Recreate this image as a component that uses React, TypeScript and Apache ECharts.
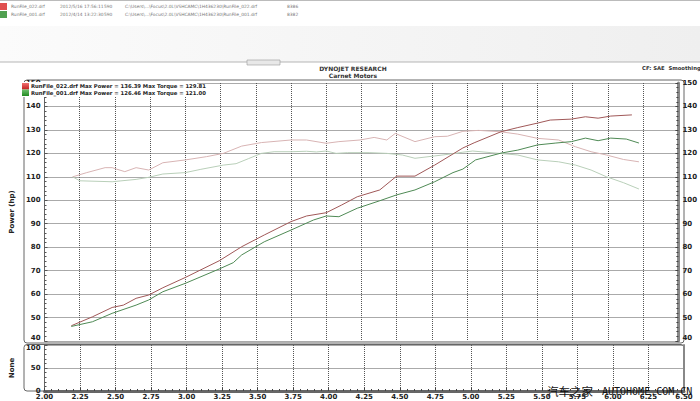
import React, { useEffect, useRef } from "react";
import * as echarts from "echarts";

// ---- data (RPM x1000, hp / lb-ft) ----
const redPowerRpm = [2.19, 2.34, 2.48, 2.56, 2.65, 2.74, 2.84, 3.0, 3.24, 3.4, 3.56, 3.75, 3.86, 4.0, 4.11, 4.22, 4.38, 4.5, 4.63, 4.77, 4.97, 5.05, 5.24, 5.36, 5.5, 5.59, 5.74, 5.84, 5.93, 6.02, 6.17];
const redPower = [46.5, 50.3, 54.3, 55.3, 58.2, 59.6, 62.7, 67.1, 74.2, 80.2, 85.2, 90.9, 93.3, 94.7, 98.0, 101.5, 104.4, 110.3, 110.3, 115.0, 122.3, 124.5, 129.2, 131.0, 132.9, 134.2, 134.6, 135.6, 135.0, 135.9, 136.4];

const greenPowerRpm = [2.19, 2.34, 2.48, 2.65, 2.74, 2.84, 3.0, 3.24, 3.34, 3.4, 3.56, 3.75, 3.91, 4.0, 4.09, 4.22, 4.38, 4.5, 4.63, 4.77, 4.9, 4.97, 5.06, 5.24, 5.36, 5.5, 5.63, 5.74, 5.84, 5.93, 6.02, 6.13, 6.22];
const greenPower = [46.2, 48.2, 51.8, 55.3, 57.5, 61.0, 64.6, 70.7, 73.4, 76.7, 82.3, 87.3, 91.6, 93.3, 93.0, 96.6, 99.8, 102.3, 104.4, 107.9, 111.8, 113.3, 117.2, 120.1, 121.4, 123.6, 124.4, 125.0, 126.5, 125.4, 126.5, 126.1, 124.4];

const redTorqueRpm = [2.2, 2.3, 2.43, 2.48, 2.57, 2.65, 2.74, 2.84, 3.0, 3.15, 3.27, 3.4, 3.54, 3.75, 3.86, 4.0, 4.09, 4.24, 4.34, 4.43, 4.49, 4.63, 4.77, 4.86, 4.97, 5.08, 5.24, 5.36, 5.5, 5.65, 5.77, 5.88, 5.99, 6.11, 6.22];
const redTorque = [110.0, 111.8, 113.9, 113.9, 112.2, 113.9, 112.9, 116.0, 117.2, 118.6, 120.0, 123.1, 124.6, 125.7, 125.7, 124.3, 125.0, 125.7, 126.8, 125.7, 128.5, 125.0, 127.1, 127.3, 129.4, 129.8, 129.2, 128.2, 126.4, 125.7, 122.8, 120.7, 119.3, 117.4, 116.4];

const greenTorqueRpm = [2.2, 2.25, 2.48, 2.65, 2.74, 2.84, 3.0, 3.11, 3.27, 3.36, 3.45, 3.54, 3.63, 3.75, 3.86, 3.93, 4.0, 4.07, 4.15, 4.31, 4.43, 4.54, 4.63, 4.77, 4.88, 4.97, 5.04, 5.17, 5.36, 5.5, 5.65, 5.77, 5.88, 5.99, 6.11, 6.22];
const greenTorque = [110.0, 108.3, 107.9, 108.9, 109.8, 111.2, 111.8, 113.2, 115.0, 115.6, 117.8, 120.0, 120.7, 120.7, 120.9, 120.6, 121.0, 120.0, 120.3, 120.3, 120.0, 119.3, 117.9, 118.9, 119.7, 120.5, 121.0, 120.3, 119.3, 117.2, 116.4, 115.0, 112.9, 110.0, 107.5, 104.8];

const legendLines = [
  "RunFile_022.drf Max Power = 136.39 Max Torque = 129.81",
  "RunFile_001.drf Max Power = 126.46 Max Torque = 121.00",
];
const headerRows = [
  ["RunFile_022.drf", "2012/5/16 17:56:11", "590", "C:\\Users\\...\\Focus\\2.0L\\VSHCAMC\\1H436230\\RunFile_022.drf", "8386"],
  ["RunFile_001.drf", "2012/4/14 13:22:30", "590", "C:\\Users\\...\\Focus\\2.0L\\VSHCAMC\\1H436230\\RunFile_001.drf", "8382"],
];

const zip = (xs: number[], ys: number[]) => xs.map((x, i) => [x, ys[i]]);

const FONT = "DejaVu Sans";
const GRID_LINE = { show: true, lineStyle: { type: "dotted" as const, color: "#555", width: 1 } };
const AX_LABEL = { fontSize: 7, fontWeight: "bold" as const, color: "#222", fontFamily: FONT };
const RICH = {
  up: { fontSize: 7, fontWeight: "bold" as const, color: "#222", fontFamily: FONT, padding: [0, 0, 6, 0] },
  dn: { fontSize: 7, fontWeight: "bold" as const, color: "#222", fontFamily: FONT, padding: [6, 0, 0, 0] },
};

export default function App() {
  const ref = useRef<HTMLDivElement>(null);
  useEffect(() => {
    if (!ref.current) return;
    const chart = echarts.init(ref.current, undefined, { renderer: "svg" });
    const headerCols = [11, 60, 104, 125, 287];
    const graphic: any[] = [
      { type: "rect", shape: { x: 0, y: 0, width: 700, height: 1 }, style: { fill: "#bbb" } },
      {
        type: "rect", shape: { x: 0, y: 26, width: 700, height: 36 },
        style: { fill: new echarts.graphic.LinearGradient(0, 0, 1, 0, [ { offset: 0, color: "#fbfbfb" }, { offset: 1, color: "#efefef" } ]) },
      },
      { type: "line", shape: { x1: 0, y1: 62, x2: 700, y2: 62 }, style: { stroke: "#b5b5b5", lineWidth: 1 } },
      { type: "rect", shape: { x: 247, y: 60, width: 33, height: 5 }, style: { fill: "#e8e8e8", stroke: "#999", lineWidth: 0.6 } },
      { type: "rect", shape: { x: 0, y: 3, width: 7, height: 7 }, style: { fill: "#e05050" } },
      { type: "rect", shape: { x: 0, y: 11, width: 7, height: 7 }, style: { fill: "#50a050" } },
      { type: "text", style: { text: "DYNOJET RESEARCH", x: 353, y: 68, textAlign: "center", textVerticalAlign: "middle", fontSize: 6, fontWeight: "bold", fontFamily: FONT, fill: "#333" } },
      { type: "text", style: { text: "Carnet Motors", x: 353, y: 75.5, textAlign: "center", textVerticalAlign: "middle", fontSize: 6, fontWeight: "bold", fontFamily: FONT, fill: "#333" } },
      { type: "text", style: { text: "CF: SAE  Smoothing", x: 642, y: 68, textAlign: "left", textVerticalAlign: "middle", fontSize: 5.3, fontWeight: "bold", fontFamily: FONT, fill: "#333" } },
      // plot frames
      { type: "rect", shape: { x: 24, y: 80, width: 660, height: 263, r: 3 }, style: { fill: "none", stroke: "#666", lineWidth: 1 } },
      { type: "rect", shape: { x: 24, y: 344.5, width: 660, height: 46.5, r: 3 }, style: { fill: "none", stroke: "#666", lineWidth: 1 } },
      // legend
      { type: "rect", shape: { x: 21, y: 82, width: 176, height: 15 }, style: { fill: "#fff" }, z: 10 },
      {
        type: "rect", shape: { x: 22, y: 83, width: 7, height: 6.5 }, z: 11,
        style: { fill: new echarts.graphic.LinearGradient(0, 0, 0, 1, [ { offset: 0, color: "#f07070" }, { offset: 1, color: "#c02020" } ]) },
      },
      {
        type: "rect", shape: { x: 22, y: 89.5, width: 7, height: 6.5 }, z: 11,
        style: { fill: new echarts.graphic.LinearGradient(0, 0, 0, 1, [ { offset: 0, color: "#70c070" }, { offset: 1, color: "#208a20" } ]) },
      },
      // watermark
      { type: "text", z: 20, style: { text: "汽车之家", x: 547, y: 391, textAlign: "left", textVerticalAlign: "middle", fontSize: 11.5, fontFamily: "Noto Sans CJK SC", fill: "#111" } },
      { type: "text", z: 20, style: { text: "AUTOHOME.COM.CN", x: 602, y: 391, textAlign: "left", textVerticalAlign: "middle", fontSize: 10, fontFamily: "DejaVu Sans Mono", fill: "#111" } },
    ];
    legendLines.forEach((t, i) => {
      graphic.push({ type: "text", z: 11, style: { text: t, x: 31, y: 86.3 + i * 6.8, textAlign: "left", textVerticalAlign: "middle", fontSize: 5.3, fontWeight: "bold", fontFamily: FONT, fill: "#222" } });
    });
    headerRows.forEach((row, r) => {
      row.forEach((t, c) => {
        graphic.push({ type: "text", style: { text: t, x: headerCols[c], y: 6.5 + r * 8, textAlign: "left", textVerticalAlign: "middle", fontSize: 4.4, fontFamily: FONT, fill: "#777" } });
      });
    });

    const xBase = { type: "value" as const, min: 2, max: 6.5, interval: 0.25 };
    const line = (name: string, data: number[][], color: string) => ({
      name, type: "line", data, xAxisIndex: 0, yAxisIndex: 0, showSymbol: false, symbol: "none",
      lineStyle: { color, width: 1 }, itemStyle: { color }, z: 3,
    });
    const mainFmt = (v: number) => (v === 40 ? `{up|${v}}` : `${v}`);
    const lowFmt = (v: number) => (v === 100 ? `{dn|${v}}` : `${v}`);

    chart.setOption({
      animation: false,
      backgroundColor: "#fff",
      grid: [
        { left: 24, right: 16, top: 83, height: 258 },
        { left: 24, right: 16, top: 345, height: 46 },
      ],
      xAxis: [
        { ...xBase, gridIndex: 0, axisLabel: { show: false }, axisLine: { show: false }, axisTick: { show: false }, splitLine: GRID_LINE },
        {
          ...xBase, gridIndex: 1,
          axisLabel: { ...AX_LABEL, margin: 2, formatter: (v: number) => v.toFixed(2) },
          axisLine: { show: true, onZero: false, lineStyle: { color: "#666", width: 3 } },
          axisTick: { show: true, inside: true, length: 3, lineStyle: { color: "#444" } },
          minorTick: { show: true, splitNumber: 5, length: 2, lineStyle: { color: "#444" } },
          splitLine: GRID_LINE,
        },
      ],
      yAxis: [
        {
          type: "value", gridIndex: 0, min: 40, max: 150, interval: 10, position: "left",
          name: "Power (hp)", nameLocation: "middle", nameGap: 15,
          nameTextStyle: { fontSize: 7, fontWeight: "bold", color: "#222", fontFamily: FONT },
          axisLabel: { ...AX_LABEL, margin: 4, formatter: mainFmt, rich: RICH },
          axisLine: { show: true, lineStyle: { color: "#666" } },
          axisTick: { show: true, inside: true, length: 3, lineStyle: { color: "#555" } },
          minorTick: { show: true, splitNumber: 5, length: 2, lineStyle: { color: "#555" } },
          splitLine: GRID_LINE,
        },
        {
          type: "value", gridIndex: 0, min: 40, max: 150, interval: 10, position: "right",
          axisLabel: { ...AX_LABEL, margin: 4, formatter: mainFmt, rich: RICH },
          axisLine: { show: true, lineStyle: { color: "#888", width: 3 } },
          axisTick: { show: true, inside: true, length: 3, lineStyle: { color: "#444" } },
          minorTick: { show: true, splitNumber: 5, length: 2, lineStyle: { color: "#444" } },
          splitLine: { show: false },
        },
        {
          type: "value", gridIndex: 1, min: 0, max: 100, interval: 50, position: "left",
          name: "None", nameLocation: "middle", nameGap: 15,
          nameTextStyle: { fontSize: 7, fontWeight: "bold", color: "#222", fontFamily: FONT },
          axisLabel: { ...AX_LABEL, margin: 4, formatter: lowFmt, rich: RICH },
          axisLine: { show: true, lineStyle: { color: "#666" } },
          axisTick: { show: true, inside: true, length: 3, lineStyle: { color: "#555" } },
          minorTick: { show: true, splitNumber: 5, length: 2, lineStyle: { color: "#555" } },
          splitLine: GRID_LINE,
        },
        {
          type: "value", gridIndex: 1, min: 0, max: 100, interval: 50, position: "right",
          axisLabel: { show: false },
          axisLine: { show: true, lineStyle: { color: "#888", width: 2 } },
          axisTick: { show: false }, splitLine: { show: false },
        },
      ],
      series: [
        line("RunFile_022 Torque", zip(redTorqueRpm, redTorque), "#d8b4b4"),
        line("RunFile_001 Torque", zip(greenTorqueRpm, greenTorque), "#b9cfb9"),
        line("RunFile_022 Power", zip(redPowerRpm, redPower), "#a05858"),
        line("RunFile_001 Power", zip(greenPowerRpm, greenPower), "#4f8a55"),
      ],
      graphic,
    });
    return () => chart.dispose();
  }, []);
  return <div ref={ref} style={{ position: "fixed", left: 0, top: 0, width: 700, height: 401 }} />;
}
